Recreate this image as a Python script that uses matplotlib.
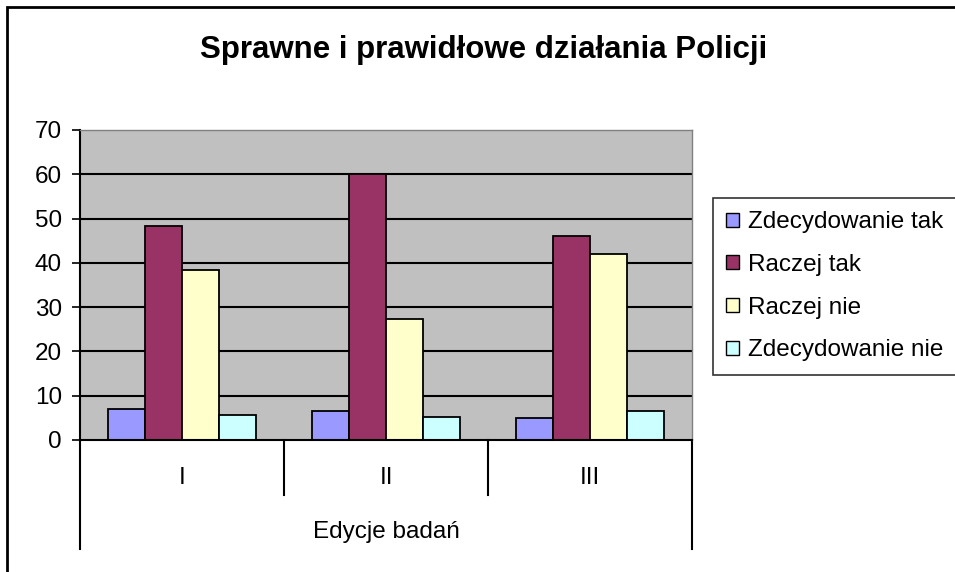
import matplotlib.pyplot as plt
import numpy as np
from matplotlib.patches import Patch, Rectangle
from matplotlib.lines import Line2D

plt.rcParams['font.family'] = ['Liberation Sans', 'DejaVu Sans']

title = 'Sprawne i prawidłowe działania Policji'
editions = ['I', 'II', 'III']
axis_label = 'Edycje badań'
series_names = ['Zdecydowanie tak', 'Raczej tak', 'Raczej nie', 'Zdecydowanie nie']
zdec_tak = [7.0, 6.6, 4.9]
raczej_tak = [48.3, 60.0, 46.0]
raczej_nie = [38.3, 27.4, 41.9]
zdec_nie = [5.7, 5.3, 6.6]
colors = ['#9999FF', '#993366', '#FFFFCC', '#CCFFFF']

series = [zdec_tak, raczej_tak, raczej_nie, zdec_nie]

W, H = 955, 572
fs = 17.5
fig = plt.figure(figsize=(W / 100, H / 100), dpi=100)

# outer chart border
fig.patches.append(Rectangle((7 / W, -0.1), 1.1, 1 - 7 / H + 0.1, transform=fig.transFigure,
                             fill=False, edgecolor='black', linewidth=2))

ax = fig.add_axes([80 / W, (H - 440) / H, 612 / W, 310 / H])
ax.set_facecolor('#C0C0C0')

n = len(series)
bw = 1 / 5.5
x = np.arange(len(editions))
for i, (vals, c, name) in enumerate(zip(series, colors, series_names)):
    ax.bar(x + (i - (n - 1) / 2) * bw, vals, width=bw, color=c, edgecolor='black',
           linewidth=1.3, zorder=3, label=name)

ax.set_xlim(-0.5, len(editions) - 0.5)
ax.set_ylim(0, 70)
ax.set_yticks(range(0, 71, 10))
for v in range(10, 70, 10):
    ax.axhline(v, color='black', linewidth=1.5, zorder=1)
ax.tick_params(axis='y', labelsize=fs, length=6, width=1.2, direction='out', pad=7)
ax.set_xticks([])
for s in ['top', 'right']:
    ax.spines[s].set_color('#808080')
    ax.spines[s].set_linewidth(1)
ax.spines['left'].set_linewidth(1.5)
ax.spines['bottom'].set_linewidth(1.5)
ax.spines['bottom'].set_zorder(5)

# category separators of the two-level axis
tr = ax.get_xaxis_transform()
for b in np.arange(-0.5, len(editions), 1.0):
    outer = b in (-0.5, len(editions) - 0.5)
    y_end = -(549 - 440) / 310 if outer else -(495 - 440) / 310
    ax.add_line(Line2D([b, b], [0, y_end], transform=tr, color='black', linewidth=1.5,
                       clip_on=False))
for xi, lab in zip(x, editions):
    ax.text(xi, -(478 - 440) / 310, lab, transform=tr, ha='center', va='center', fontsize=fs)
ax.text((len(editions) - 1) / 2, -(532 - 440) / 310, axis_label, transform=tr,
        ha='center', va='center', fontsize=fs)

fig.text(484 / W, 1 - 50 / H, title, ha='center', va='center', fontsize=22.5, fontweight='bold')

handles = [Patch(facecolor=c, edgecolor='black', linewidth=1) for c in colors]
leg = fig.legend(handles, series_names, loc='upper left', bbox_to_anchor=(713 / W, 1 - 198 / H),
                 fontsize=fs, frameon=True, fancybox=False, edgecolor='black',
                 handlelength=0.5, handleheight=0.5, handletextpad=0.4,
                 labelspacing=0.85, borderpad=0.55, borderaxespad=0)
leg.get_frame().set_linewidth(1.2)

fig.savefig('out.png', dpi=100)
